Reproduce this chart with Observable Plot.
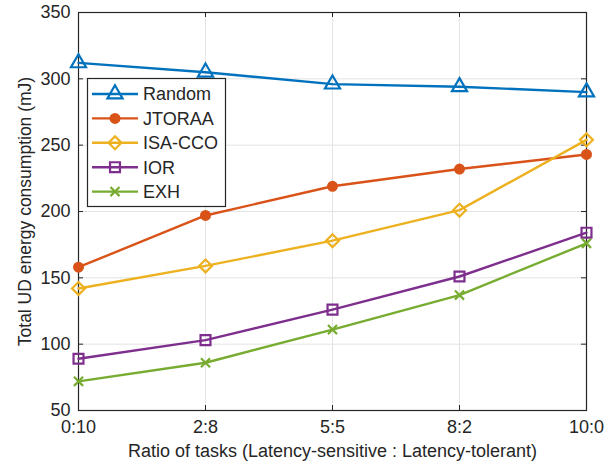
<!DOCTYPE html>
<html><head><meta charset="utf-8">
<script src="https://cdn.jsdelivr.net/npm/d3@7"></script>
<script src="https://cdn.jsdelivr.net/npm/@observablehq/plot@0.6"></script>
<style>
body{margin:0;background:#fff;}
#chart svg{font-family:"Liberation Sans",Arial,Helvetica,sans-serif;background:#fff;}
</style>
</head><body><div id="chart"></div>
<script>
const ratios = ["0:10","2:8","5:5","8:2","10:0"];
const seriesNames = ["Random","JTORAA","ISA-CCO","IOR","EXH"];
const randomVals = [312,305,296,294,290];
const jtoraaVals = [158,197,219,232,243];
const isaccoVals = [142,159,178,201,254];
const iorVals = [89,103,126,151,184];
const exhVals = [72,86,111,137,176];
const yTicks = [50,100,150,200,250,300,350];
const xTitle = "Ratio of tasks (Latency-sensitive : Latency-tolerant)";
const yTitle = "Total UD energy consumption (mJ)";

const colors = ["#0072BD","#D95319","#EDB120","#7E2F8E","#77AC30"];
const symbols = ["triangle","circle","diamond2","square","times"];
const radii = [5.6,4.4,5.8,5.6,4.2];
const filled = [false,true,false,false,false];

const valuesBySeries = [randomVals,jtoraaVals,isaccoVals,iorVals,exhVals];
const data = [];
seriesNames.forEach((s,i)=>valuesBySeries[i].forEach((v,j)=>data.push({series:s, ratio:ratios[j], value:v})));

const W = 613, H = 468, mL = 78, mR = 27, mT = 12, mB = 58;
const pw = W - mL - mR, ph = H - mT - mB;
const frameColor = "#262626";
const gridColor = "#e3e3e3";
const tickLen = 5;
const fontSize = 18;

const marks = [
  Plot.gridX(ratios, {stroke: gridColor, strokeOpacity: 1, strokeWidth: 1}),
  Plot.gridY(yTicks, {stroke: gridColor, strokeOpacity: 1, strokeWidth: 1}),
  // inward ticks on all four sides
  Plot.tickY(yTicks, {y: d=>d, stroke: frameColor, insetRight: pw - tickLen}),
  Plot.tickY(yTicks, {y: d=>d, stroke: frameColor, insetLeft: pw - tickLen}),
  Plot.tickX(ratios, {x: d=>d, stroke: frameColor, insetTop: ph - tickLen}),
  Plot.tickX(ratios, {x: d=>d, stroke: frameColor, insetBottom: ph - tickLen}),
  Plot.frame({stroke: frameColor, strokeWidth: 1.2}),
  Plot.axisY(yTicks, {tickSize: 0, tickPadding: 8, fontSize, fill: "#262626", label: null}),
  Plot.axisX(ratios, {tickSize: 0, tickPadding: 10, fontSize, fill: "#262626", label: null}),
  Plot.text([xTitle], {frameAnchor: "bottom", dy: 46, fontSize, fill: "#262626", text: d=>d, textAnchor: "middle"}),
  Plot.text([yTitle], {frameAnchor: "left", dx: -53, rotate: -90, fontSize: 17.5, fill: "#262626", text: d=>d, textAnchor: "middle"})
];
seriesNames.forEach((s,i)=>{
  const rows = data.filter(d=>d.series===s);
  marks.push(Plot.line(rows, {x:"ratio", y:"value", stroke: colors[i], strokeWidth: 2.4}));
  marks.push(Plot.dot(rows, {x:"ratio", y:"value", symbol: symbols[i], r: radii[i],
    stroke: colors[i], strokeWidth: 2.2, fill: filled[i] ? colors[i] : "none"}));
});

const chart = Plot.plot({
  width: W, height: H,
  marginLeft: mL, marginRight: mR, marginTop: mT, marginBottom: mB,
  x: {type: "point", domain: ratios, padding: 0},
  y: {domain: [50,350]},
  style: {fontFamily: '"Liberation Sans",Arial,Helvetica,sans-serif', background: "#fff"},
  marks
});
document.getElementById("chart").appendChild(chart);

// legend overlay inside the plot area
const svg = d3.select(chart);
const lg = svg.append("g").attr("class","legend").attr("text-anchor","start");
const box = {x: 87, y: 78, w: 138, h: 128};
lg.append("rect").attr("x", box.x + 0.5).attr("y", box.y + 0.5).attr("width", box.w).attr("height", box.h)
  .attr("fill", "#fff").attr("stroke", frameColor).attr("stroke-width", 1.2);
const symMap = {triangle: d3.symbolTriangle, circle: d3.symbolCircle, diamond2: d3.symbolDiamond2, square: d3.symbolSquare, times: d3.symbolTimes};
seriesNames.forEach((s,i)=>{
  const cy = 94 + i * 24.4;
  lg.append("line").attr("x1", 92).attr("x2", 138).attr("y1", cy).attr("y2", cy)
    .attr("stroke", colors[i]).attr("stroke-width", 2.4);
  lg.append("path").attr("transform", `translate(115,${cy})`)
    .attr("d", d3.symbol(symMap[symbols[i]], radii[i]*radii[i]*Math.PI)())
    .attr("stroke", colors[i]).attr("stroke-width", 2.2)
    .attr("fill", filled[i] ? colors[i] : "none");
  lg.append("text").attr("x", 143).attr("y", cy).attr("dy", "0.35em")
    .attr("text-anchor", "start")
    .attr("font-size", fontSize).attr("fill", "#262626").text(s);
});
</script>
</body></html>
